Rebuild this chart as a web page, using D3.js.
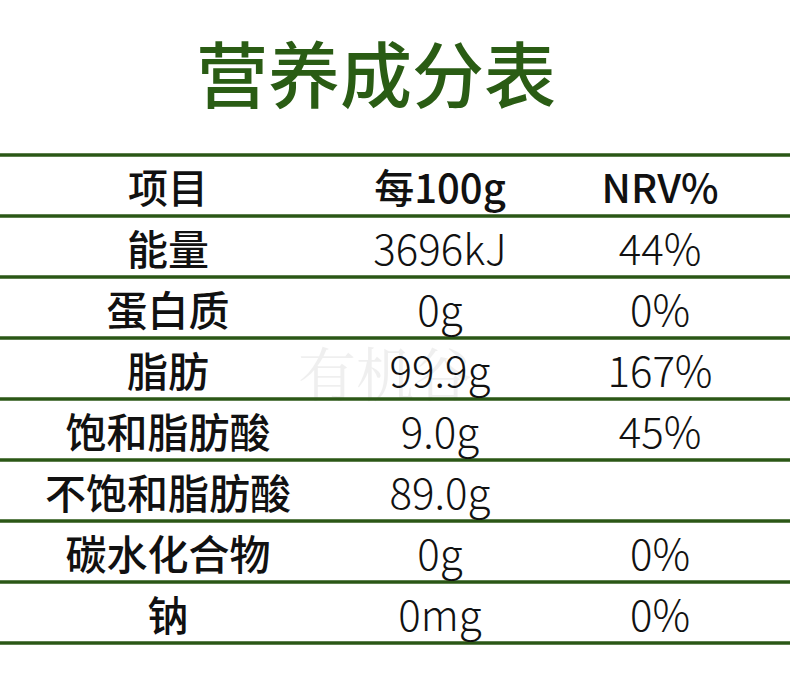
<!DOCTYPE html>
<html>
<head>
<meta charset="utf-8">
<script src="https://cdn.jsdelivr.net/npm/d3@7"></script>
<style>
  body { margin: 0; background: #fff; }
  svg { display: block; }
</style>
</head>
<body>
<script>
var w = 790;
var h = 700;

// table contents
var title = "营养成分表";
var headers = ["项目", "每100g", "NRV%"];
var items = ["能量", "蛋白质", "脂肪", "饱和脂肪酸", "不饱和脂肪酸", "碳水化合物", "钠"];
var per100g = ["3696kJ", "0g", "99.9g", "9.0g", "89.0g", "0g", "0mg"];
var nrv = ["44%", "0%", "167%", "45%", "", "0%", "0%"];

var green = "#2b5716";

var svg = d3.select("body").append("svg")
    .attr("width", w)
    .attr("height", h);

// title
svg.append("text")
   .attr("x", 376)
   .attr("y", 70)
   .attr("text-anchor", "middle")
   .attr("dominant-baseline", "central")
   .attr("font-family", "'Noto Sans CJK SC'")
   .attr("font-weight", 500)
   .attr("font-size", 72)
   .attr("fill", "#2a5c14")
   .text(title);

var rowKeys = d3.range(items.length + 1);

var y = d3.scaleBand()
    .domain(rowKeys)
    .range([155, 643])
    .padding(0);

var x = d3.scaleOrdinal()
    .domain([0, 1, 2])
    .range([168, 440, 660]);

// faint watermark behind the numbers
svg.append("text")
   .attr("x", 385)
   .attr("y", y(3) + y.bandwidth() / 2 + 2)
   .attr("text-anchor", "middle")
   .attr("dominant-baseline", "central")
   .attr("font-family", "'Noto Serif CJK SC', 'Noto Sans CJK SC'")
   .attr("font-size", 58)
   .attr("fill", "#000")
   .attr("opacity", 0.06)
   .text("有机谷");

// horizontal rules
var lines = d3.range(items.length + 2);
svg.selectAll("line.rule")
   .data(lines).enter()
   .append("line")
   .attr("class", "rule")
   .attr("x1", 0)
   .attr("x2", w)
   .attr("y1", function(d) { return 155 + d * y.step(); })
   .attr("y2", function(d) { return 155 + d * y.step(); })
   .attr("stroke", green)
   .attr("stroke-width", 3.5);

// header row
svg.selectAll("text.head")
   .data(headers).enter()
   .append("text")
   .attr("class", "head")
   .attr("x", function(d, i) { return x(i); })
   .attr("y", y(0) + y.bandwidth() / 2)
   .attr("text-anchor", "middle")
   .attr("dominant-baseline", "central")
   .attr("font-family", "'Noto Sans CJK SC'")
   .attr("font-weight", 500)
   .attr("font-size", 40)
   .attr("fill", "#111")
   .text(function(d) { return d; });

// body rows
var rows = svg.selectAll("g.row")
    .data(items).enter()
    .append("g")
    .attr("class", "row")
    .attr("transform", function(d, i) { return "translate(0," + (y(i + 1) + y.bandwidth() / 2) + ")"; });

rows.append("text")
    .attr("x", x(0))
    .attr("text-anchor", "middle")
    .attr("dominant-baseline", "central")
    .attr("font-family", "'Noto Sans CJK SC'")
    .attr("font-weight", 500)
    .attr("font-size", 41)
    .attr("fill", "#111")
    .text(function(d) { return d; });

rows.append("text")
    .attr("x", x(1))
    .attr("text-anchor", "middle")
    .attr("dominant-baseline", "central")
    .attr("font-family", "'Noto Sans CJK SC'")
    .attr("font-weight", 300)
    .attr("font-size", 42)
    .attr("fill", "#111")
    .text(function(d, i) { return per100g[i]; });

rows.append("text")
    .attr("x", x(2))
    .attr("text-anchor", "middle")
    .attr("dominant-baseline", "central")
    .attr("font-family", "'Noto Sans CJK SC'")
    .attr("font-weight", 300)
    .attr("font-size", 42)
    .attr("fill", "#111")
    .text(function(d, i) { return nrv[i]; });
</script>
</body>
</html>
